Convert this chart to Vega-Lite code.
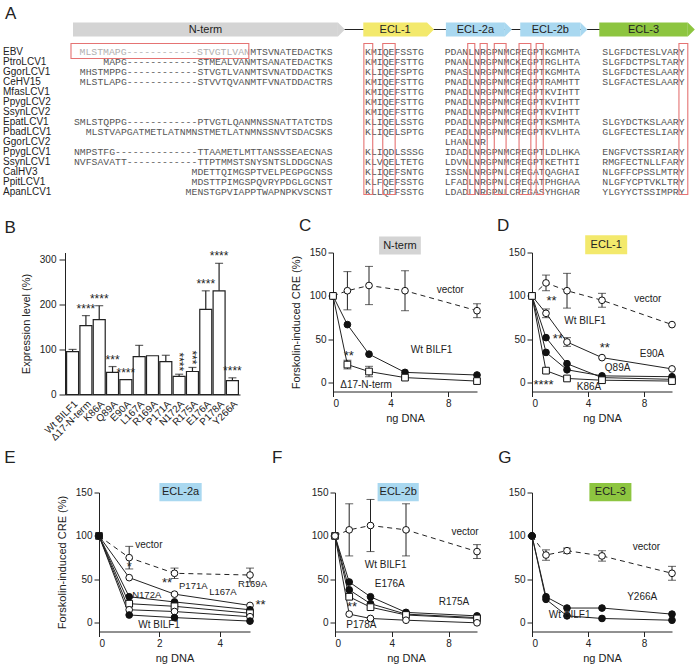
{
  "$schema": "https://vega.github.io/schema/vega-lite/v6.json",
  "padding": {"left": 3, "top": 3.5, "right": 0, "bottom": 0},
  "background": "white",
  "spacing": 6,
  "config": {
    "font": "Liberation Sans",
    "view": {"stroke": null},
    "axis": {"labelFont": "Liberation Sans", "labelFontSize": 10, "labelColor": "#222", "titleFont": "Liberation Sans", "titleFontSize": 11, "titleFontWeight": "normal", "titleColor": "#222", "domainColor": "#222", "tickColor": "#222", "grid": false, "tickSize": 5, "titlePadding": 8},
    "axisX": {"titlePadding": 4},
    "text": {"font": "Liberation Sans", "fontSize": 10, "color": "#222"}
  },
  "datasets": {
    "seqs": [
      {"row": 0, "name": "EBV", "del": "MLSTMAPG------------STVGTLVAN", "n": "MTSVNATEDACTKS", "e1": "KMIQEFSSTG", "e2": "PDANLNRGPNMCREGPTKGMHTA", "e3": "SLGFDCTESLVARY"},
      {"row": 1, "name": "PtroLCV1", "del": "", "n": "MAPG------------STMEALVANMTSANATEDACTKS", "e1": "KMIQEFSTTG", "e2": "PNANLNRGPNMCKEGPTRGLHTA", "e3": "SLGFDCTPSLTARY"},
      {"row": 2, "name": "GgorLCV1", "del": "", "n": "MHSTMPPG------------STVGTLVANMTSVNATDDACTKS", "e1": "KLIQEFSPTG", "e2": "PNASLNRGPNMCREGPTKGMHTA", "e3": "SLGFDCTESLAARY"},
      {"row": 3, "name": "CeHV15", "del": "", "n": "MLSTLAPG------------STVVTQVANMTFVNATDDACTRS", "e1": "KMIQEFSTTG", "e2": "PNADLNRGPNMCREGPTRAMHTT", "e3": "SLGFACTESLAARY"},
      {"row": 4, "name": "MfasLCV1", "del": "", "n": "", "e1": "KMIQEFSTTG", "e2": "PNADLNRGPNMCREGPTKVIHTT", "e3": ""},
      {"row": 5, "name": "PpygLCV2", "del": "", "n": "", "e1": "KMIQEFSTTG", "e2": "PNADLNRGPNMCREGPTKVIHTT", "e3": ""},
      {"row": 6, "name": "SsynLCV2", "del": "", "n": "", "e1": "KMIQEFSTTG", "e2": "PNADLNRGPNMCREGPTKVIHTT", "e3": ""},
      {"row": 7, "name": "EpatLCV1", "del": "", "n": "SMLSTQPPG------------PTVGTLQANMNSSNATTATCTDS", "e1": "KLIQELSSTG", "e2": "PDADLNRGPNMCREGPTKSMHTA", "e3": "SLGYDCTKSLAARY"},
      {"row": 8, "name": "PbadLCV1", "del": "", "n": "MLSTVAPGATMETLATNMNSTMETLATNMNSSNVTSDACSKS", "e1": "KLIQELSPTG", "e2": "PEADLNRGPNMCREGPTKVLHTA", "e3": "GLGFECTESLIARY"},
      {"row": 9, "name": "GgorLCV2", "del": "", "n": "", "e1": "", "e2": "LHANLNR", "e3": ""},
      {"row": 10, "name": "PpygLCV1", "del": "", "n": "NMPSTFG--------------TTAAMETLMTTANSSSEAECNAS", "e1": "KLIQDLSSSG", "e2": "IDADLNRGPNMCREGPTLDLHKA", "e3": "ENGFVCTSSRIARY"},
      {"row": 11, "name": "SsynLCV1", "del": "", "n": "NVFSAVATT------------TTPTMMSTSNYSNTSLDDGCNAS", "e1": "KLVQELTETG", "e2": "LDVNLNRGPNMCREGPTKETHTI", "e3": "RMGFECTNLLFARY"},
      {"row": 12, "name": "CalHV3", "del": "", "n": "MDETTQIMGSPTVELPEGPGCNSS", "e1": "KLIQEFSNTG", "e2": "ISSNLNRGPNLCREGATQAGHAI", "e3": "NLGFFCPSSLMTRY"},
      {"row": 13, "name": "PpitLCV1", "del": "", "n": "MDSTTPIMGSPQVRYPDGLGCNST", "e1": "KLFQEFSSTG", "e2": "LFADLNRGPNLCREGATPHGHAA", "e3": "NLGFYCPTVKLTRY"},
      {"row": 14, "name": "ApanLCV1", "del": "", "n": "MENSTGPVIAPPTWAPNPKVSCNST", "e1": "KLLQEFSSTG", "e2": "LDADLNRGPNLCREGASYHGHAR", "e3": "YLGYYCTSSIMPRY"}
    ],
    "doms": [
      {"d": "N-term", "s": 0, "e": 44.9},
      {"d": "ECL-1", "s": 49.2, "e": 60},
      {"d": "ECL-2a", "s": 63.2, "e": 73.2},
      {"d": "ECL-2b", "s": 75.8, "e": 86},
      {"d": "ECL-3", "s": 89.2, "e": 104.2}
    ],
    "boxes": [
      {"c0": -0.34, "c1": 29.8, "r0": -0.8, "r1": 0.7},
      {"c0": 49.3, "c1": 50.8, "r0": -0.8, "r1": 14.3},
      {"c0": 52.5, "c1": 54.6, "r0": -0.8, "r1": 14.3},
      {"c0": 66.9, "c1": 68.1, "r0": -0.8, "r1": 14.3},
      {"c0": 69, "c1": 70.2, "r0": -0.8, "r1": 14.3},
      {"c0": 71.4, "c1": 73.4, "r0": -0.8, "r1": 14.3},
      {"c0": 75.6, "c1": 77.6, "r0": -0.8, "r1": 14.3},
      {"c0": 78.5, "c1": 79.7, "r0": -0.8, "r1": 14.3},
      {"c0": 102.7, "c1": 104.2, "r0": -0.8, "r1": 14.3}
    ],
    "expr": [
      {"m": "Wt BILF1", "v": 95, "hi": 100, "sig": ""},
      {"m": "Δ17-N-term", "v": 153, "hi": 175, "sig": "****"},
      {"m": "K86A", "v": 166, "hi": 197, "sig": "****"},
      {"m": "Q89A", "v": 49, "hi": 62, "sig": "***"},
      {"m": "E90A", "v": 33, "hi": 33, "sig": "****"},
      {"m": "L167A", "v": 84, "hi": 109, "sig": ""},
      {"m": "R169A", "v": 86, "hi": 86, "sig": ""},
      {"m": "P171A", "v": 73, "hi": 87, "sig": ""},
      {"m": "N172A", "v": 40, "hi": 45, "sig": "****"},
      {"m": "R175A", "v": 51, "hi": 60, "sig": "***"},
      {"m": "E176A", "v": 189, "hi": 230, "sig": "****"},
      {"m": "P178A", "v": 230, "hi": 291, "sig": "****"},
      {"m": "Y266A", "v": 31, "hi": 37, "sig": "****"}
    ],
    "C": [
      {"s": "vector", "ng": 0, "v": 100, "e": 0}, {"s": "vector", "ng": 1, "v": 106, "e": 22}, {"s": "vector", "ng": 2.5, "v": 112, "e": 22}, {"s": "vector", "ng": 5, "v": 106, "e": 23}, {"s": "vector", "ng": 10, "v": 83, "e": 8},
      {"s": "Wt BILF1", "ng": 0, "v": 100, "e": 0}, {"s": "Wt BILF1", "ng": 1, "v": 67, "e": 0}, {"s": "Wt BILF1", "ng": 2.5, "v": 33, "e": 0}, {"s": "Wt BILF1", "ng": 5, "v": 12, "e": 0}, {"s": "Wt BILF1", "ng": 10, "v": 9, "e": 0},
      {"s": "Δ17-N-term", "ng": 0, "v": 100, "e": 0}, {"s": "Δ17-N-term", "ng": 1, "v": 21, "e": 5}, {"s": "Δ17-N-term", "ng": 2.5, "v": 13, "e": 6}, {"s": "Δ17-N-term", "ng": 5, "v": 6, "e": 0}, {"s": "Δ17-N-term", "ng": 10, "v": 2, "e": 0}
    ],
    "D": [
      {"s": "vector", "ng": 0, "v": 100, "e": 0}, {"s": "vector", "ng": 1, "v": 115, "e": 9}, {"s": "vector", "ng": 2.5, "v": 106, "e": 20}, {"s": "vector", "ng": 5, "v": 95, "e": 8}, {"s": "vector", "ng": 10, "v": 67, "e": 0},
      {"s": "Wt BILF1", "ng": 0, "v": 100, "e": 0}, {"s": "Wt BILF1", "ng": 1, "v": 52, "e": 0}, {"s": "Wt BILF1", "ng": 2.5, "v": 22, "e": 0}, {"s": "Wt BILF1", "ng": 5, "v": 6, "e": 0}, {"s": "Wt BILF1", "ng": 10, "v": 4, "e": 0},
      {"s": "E90A", "ng": 0, "v": 100, "e": 0}, {"s": "E90A", "ng": 1, "v": 80, "e": 5}, {"s": "E90A", "ng": 2.5, "v": 47, "e": 5}, {"s": "E90A", "ng": 5, "v": 29, "e": 0}, {"s": "E90A", "ng": 10, "v": 16, "e": 0},
      {"s": "Q89A", "ng": 0, "v": 100, "e": 0}, {"s": "Q89A", "ng": 1, "v": 35, "e": 0}, {"s": "Q89A", "ng": 2.5, "v": 15, "e": 0}, {"s": "Q89A", "ng": 5, "v": 8, "e": 0}, {"s": "Q89A", "ng": 10, "v": 7, "e": 0},
      {"s": "K86A", "ng": 0, "v": 100, "e": 0}, {"s": "K86A", "ng": 1, "v": 14, "e": 0}, {"s": "K86A", "ng": 2.5, "v": 5, "e": 0}, {"s": "K86A", "ng": 5, "v": 3, "e": 0}, {"s": "K86A", "ng": 10, "v": 2, "e": 0}
    ],
    "E": [
      {"s": "vector", "ng": 0, "v": 100, "e": 0}, {"s": "vector", "ng": 1, "v": 75, "e": 13}, {"s": "vector", "ng": 2.5, "v": 57, "e": 6}, {"s": "vector", "ng": 5, "v": 55, "e": 8},
      {"s": "R169A", "ng": 0, "v": 100, "e": 0}, {"s": "R169A", "ng": 1, "v": 52, "e": 0}, {"s": "R169A", "ng": 2.5, "v": 33, "e": 0}, {"s": "R169A", "ng": 5, "v": 20, "e": 0},
      {"s": "L167A", "ng": 0, "v": 100, "e": 0}, {"s": "L167A", "ng": 1, "v": 30, "e": 0}, {"s": "L167A", "ng": 2.5, "v": 24, "e": 0}, {"s": "L167A", "ng": 5, "v": 15, "e": 0},
      {"s": "P171A", "ng": 0, "v": 100, "e": 0}, {"s": "P171A", "ng": 1, "v": 22, "e": 0}, {"s": "P171A", "ng": 2.5, "v": 19, "e": 0}, {"s": "P171A", "ng": 5, "v": 11, "e": 0},
      {"s": "N172A", "ng": 0, "v": 100, "e": 0}, {"s": "N172A", "ng": 1, "v": 15, "e": 0}, {"s": "N172A", "ng": 2.5, "v": 13, "e": 0}, {"s": "N172A", "ng": 5, "v": 7, "e": 0},
      {"s": "Wt BILF1", "ng": 0, "v": 100, "e": 0}, {"s": "Wt BILF1", "ng": 1, "v": 9, "e": 0}, {"s": "Wt BILF1", "ng": 2.5, "v": 6, "e": 0}, {"s": "Wt BILF1", "ng": 5, "v": 2, "e": 0}
    ],
    "F": [
      {"s": "vector", "ng": 0, "v": 100, "e": 0}, {"s": "vector", "ng": 1, "v": 107, "e": 30}, {"s": "vector", "ng": 2.5, "v": 112, "e": 30}, {"s": "vector", "ng": 5, "v": 107, "e": 30}, {"s": "vector", "ng": 10, "v": 82, "e": 8},
      {"s": "Wt BILF1", "ng": 0, "v": 100, "e": 0}, {"s": "Wt BILF1", "ng": 1, "v": 47, "e": 0}, {"s": "Wt BILF1", "ng": 2.5, "v": 30, "e": 0}, {"s": "Wt BILF1", "ng": 5, "v": 12, "e": 0}, {"s": "Wt BILF1", "ng": 10, "v": 8, "e": 0},
      {"s": "E176A", "ng": 0, "v": 100, "e": 0}, {"s": "E176A", "ng": 1, "v": 38, "e": 0}, {"s": "E176A", "ng": 2.5, "v": 22, "e": 0}, {"s": "E176A", "ng": 5, "v": 10, "e": 0}, {"s": "E176A", "ng": 10, "v": 6, "e": 0},
      {"s": "R175A", "ng": 0, "v": 100, "e": 0}, {"s": "R175A", "ng": 1, "v": 30, "e": 0}, {"s": "R175A", "ng": 2.5, "v": 18, "e": 0}, {"s": "R175A", "ng": 5, "v": 9, "e": 0}, {"s": "R175A", "ng": 10, "v": 5, "e": 0},
      {"s": "P178A", "ng": 0, "v": 100, "e": 0}, {"s": "P178A", "ng": 1, "v": 10, "e": 0}, {"s": "P178A", "ng": 2.5, "v": 5, "e": 0}, {"s": "P178A", "ng": 5, "v": 3, "e": 0}, {"s": "P178A", "ng": 10, "v": 0, "e": 0}
    ],
    "G": [
      {"s": "vector", "ng": 0, "v": 100, "e": 0}, {"s": "vector", "ng": 1, "v": 78, "e": 6}, {"s": "vector", "ng": 2.5, "v": 83, "e": 3}, {"s": "vector", "ng": 5, "v": 77, "e": 6}, {"s": "vector", "ng": 10, "v": 57, "e": 8},
      {"s": "Y266A", "ng": 0, "v": 100, "e": 0}, {"s": "Y266A", "ng": 1, "v": 30, "e": 0}, {"s": "Y266A", "ng": 2.5, "v": 17, "e": 0}, {"s": "Y266A", "ng": 5, "v": 17, "e": 0}, {"s": "Y266A", "ng": 10, "v": 10, "e": 0},
      {"s": "Wt BILF1", "ng": 0, "v": 100, "e": 0}, {"s": "Wt BILF1", "ng": 1, "v": 27, "e": 0}, {"s": "Wt BILF1", "ng": 2.5, "v": 8, "e": 0}, {"s": "Wt BILF1", "ng": 5, "v": 5, "e": 0}, {"s": "Wt BILF1", "ng": 10, "v": 3, "e": 0}
    ]
  },
  "vconcat": [
    {
      "width": 631, "height": 204.5,
      "layer": [
        {"data": {"values": [{}]}, "mark": {"type": "rule", "color": "#222", "strokeWidth": 1.2},
         "encoding": {"x": {"datum": 45, "type": "quantitative", "scale": {"domain": [-1.356, 105.59], "nice": false, "zero": false}, "axis": null}, "x2": {"datum": 104}, "y": {"datum": -2.2, "type": "quantitative", "scale": {"domain": [-4.6, 15.85], "reverse": true, "nice": false, "zero": false}, "axis": null}}},
        {"data": {"values": [{}]}, "mark": {"type": "text", "text": "A", "fontSize": 17, "align": "left", "baseline": "middle", "color": "#222"},
         "encoding": {"x": {"datum": -11.52}, "y": {"datum": -3.8}}},
        {"data": {"name": "doms"}, "mark": {"type": "rect"},
         "encoding": {"x": {"field": "s", "type": "quantitative"}, "x2": {"field": "e"}, "y": {"datum": -2.9}, "y2": {"datum": -1.5},
           "color": {"field": "d", "type": "nominal", "legend": null, "scale": {"domain": ["N-term", "ECL-1", "ECL-2a", "ECL-2b", "ECL-3"], "range": ["#d4d4d4", "#f3e96c", "#a9d8f0", "#a9d8f0", "#8dc540"]}}}},
        {"data": {"name": "doms"}, "mark": {"type": "point", "shape": "M0,-1L1,0L0,1Z", "size": 196, "filled": true, "opacity": 1, "strokeWidth": 0},
         "encoding": {"x": {"field": "e", "type": "quantitative"}, "y": {"datum": -2.2},
           "color": {"field": "d", "type": "nominal", "legend": null}}},
        {"data": {"name": "doms"}, "transform": [{"fold": ["s", "e"], "as": ["k", "c"]}, {"aggregate": [{"op": "mean", "field": "c", "as": "mid"}], "groupby": ["d"]}],
         "mark": {"type": "text", "fontSize": 11, "baseline": "middle", "color": "#222"},
         "encoding": {"x": {"field": "mid", "type": "quantitative"}, "y": {"datum": -2.2}, "text": {"field": "d"}}},
        {"data": {"name": "seqs"}, "mark": {"type": "text", "align": "left", "baseline": "middle", "fontSize": 10, "color": "#222"},
         "encoding": {"x": {"datum": -11.86}, "y": {"field": "row", "type": "quantitative"}, "text": {"field": "name"}}},
        {"data": {"name": "seqs"}, "mark": {"type": "text", "align": "right", "baseline": "middle", "font": "Liberation Mono", "fontSize": 9.8, "color": "#b0b0b0"},
         "encoding": {"x": {"datum": 30}, "y": {"field": "row", "type": "quantitative"}, "text": {"field": "del"}}},
        {"data": {"name": "seqs"}, "mark": {"type": "text", "align": "right", "baseline": "middle", "font": "Liberation Mono", "fontSize": 9.8, "color": "#555"},
         "encoding": {"x": {"datum": 44}, "y": {"field": "row", "type": "quantitative"}, "text": {"field": "n"}}},
        {"data": {"name": "seqs"}, "mark": {"type": "text", "align": "left", "baseline": "middle", "font": "Liberation Mono", "fontSize": 9.8, "color": "#555"},
         "encoding": {"x": {"datum": 49.5}, "y": {"field": "row", "type": "quantitative"}, "text": {"field": "e1"}}},
        {"data": {"name": "seqs"}, "mark": {"type": "text", "align": "left", "baseline": "middle", "font": "Liberation Mono", "fontSize": 9.8, "color": "#555"},
         "encoding": {"x": {"datum": 63}, "y": {"field": "row", "type": "quantitative"}, "text": {"field": "e2"}}},
        {"data": {"name": "seqs"}, "mark": {"type": "text", "align": "left", "baseline": "middle", "font": "Liberation Mono", "fontSize": 9.8, "color": "#555"},
         "encoding": {"x": {"datum": 89.7}, "y": {"field": "row", "type": "quantitative"}, "text": {"field": "e3"}}},
        {"data": {"name": "boxes"}, "mark": {"type": "rect", "fill": null, "fillOpacity": 0, "stroke": "#e57373", "strokeWidth": 1.1},
         "encoding": {"x": {"field": "c0", "type": "quantitative"}, "x2": {"field": "c1"}, "y": {"field": "r0", "type": "quantitative"}, "y2": {"field": "r1"}}}
      ]
    },
    {
      "hconcat": [
        {
          "width": 175, "height": 142,
          "layer": [
            {"data": {"name": "expr"}, "mark": {"type": "bar", "fill": "white", "stroke": "#222", "strokeWidth": 1.2},
             "encoding": {
               "x": {"field": "m", "type": "nominal", "sort": null, "title": null, "scale": {"paddingInner": 0.1, "paddingOuter": 0.12}, "axis": {"title": null, "labelAngle": -45, "ticks": false, "labelPadding": 4, "labelFontSize": 10}},
               "y": {"field": "v", "type": "quantitative", "title": "Expression level (%)", "scale": {"domain": [0, 315], "nice": false}, "axis": {"values": [0, 50, 100, 150, 200, 250, 300], "title": "Expression level (%)", "tickSize": 6, "labelPadding": 3, "titlePadding": 8}}}},
            {"data": {"name": "expr"}, "transform": [{"filter": "datum.hi > datum.v"}], "mark": {"type": "rule", "color": "#222", "strokeWidth": 1.2},
             "encoding": {"x": {"field": "m", "type": "nominal", "sort": null, "title": null}, "y": {"field": "v", "type": "quantitative", "title": "Expression level (%)"}, "y2": {"field": "hi"}}},
            {"data": {"name": "expr"}, "transform": [{"filter": "datum.hi > datum.v"}], "mark": {"type": "tick", "color": "#222", "size": 8, "thickness": 1.2},
             "encoding": {"x": {"field": "m", "type": "nominal", "sort": null, "title": null}, "y": {"field": "hi", "type": "quantitative", "title": "Expression level (%)"}}},
            {"data": {"name": "expr"}, "transform": [{"filter": "datum.sig != '' && datum.m != 'N172A' && datum.m != 'R175A'"}], "mark": {"type": "text", "fontSize": 12, "baseline": "middle", "dy": -7, "color": "#222"},
             "encoding": {"x": {"field": "m", "type": "nominal", "sort": null, "title": null}, "y": {"field": "hi", "type": "quantitative", "title": "Expression level (%)"}, "text": {"field": "sig"}}},
            {"data": {"name": "expr"}, "transform": [{"filter": "datum.m == 'N172A' || datum.m == 'R175A'"}], "mark": {"type": "text", "fontSize": 12, "baseline": "middle", "align": "right", "angle": 90, "dx": -3, "color": "#222"},
             "encoding": {"x": {"field": "m", "type": "nominal", "sort": null, "title": null}, "y": {"field": "hi", "type": "quantitative", "title": "Expression level (%)"}, "text": {"field": "sig"}}},
            {"data": {"values": [{}]}, "mark": {"type": "text", "text": "B", "fontSize": 17, "align": "left", "baseline": "middle", "dx": -68, "color": "#222"},
             "encoding": {"x": {"datum": "Wt BILF1"}, "y": {"datum": 370}}}
          ]
        },
        {"width": 73, "height": 1, "data": {"values": [{}]}, "mark": {"type": "point", "opacity": 0}},
        {
          "width": 144, "height": 139,
          "layer": [
            {"data": {"name": "C"}, "mark": {"type": "point", "filled": true, "stroke": "#111", "strokeWidth": 1, "size": 45, "opacity": 0},
             "encoding": {
               "x": {"field": "ng", "type": "quantitative", "title": "ng DNA", "scale": {"domain": [0, 10], "nice": false}, "axis": {"values": [0, 2, 4, 6, 8, 10], "title": "ng DNA"}},
               "y": {"field": "v", "type": "quantitative", "title": "Forskolin-induced CRE (%)", "scale": {"domain": [-10, 150], "nice": false}, "axis": {"values": [0, 50, 100, 150], "title": "Forskolin-induced CRE (%)"}},
               "shape": {"field": "s", "legend": null, "scale": {"domain": ["vector", "Wt BILF1", "Δ17-N-term"], "range": ["circle", "circle", "square"]}},
               "fill": {"field": "s", "legend": null, "scale": {"domain": ["vector", "Wt BILF1", "Δ17-N-term"], "range": ["white", "#111", "white"]}}}},
            {"data": {"name": "C"}, "transform": [{"filter": "datum.e > 0"}], "mark": {"type": "errorbar", "ticks": {"size": 8, "color": "#222"}, "rule": {"color": "#222"}},
             "encoding": {"x": {"field": "ng", "type": "quantitative", "title": "ng DNA"}, "y": {"field": "v", "type": "quantitative", "title": "Forskolin-induced CRE (%)"}, "yError": {"field": "e"}}},
            {"data": {"name": "C"}, "transform": [{"filter": "datum.s == 'vector'"}], "mark": {"type": "line", "color": "#222", "strokeWidth": 1, "strokeDash": [5, 4]},
             "encoding": {"x": {"field": "ng", "type": "quantitative", "title": "ng DNA"}, "y": {"field": "v", "type": "quantitative", "title": "Forskolin-induced CRE (%)"}}},
            {"data": {"name": "C"}, "transform": [{"filter": "datum.s != 'vector'"}], "mark": {"type": "line", "color": "#222", "strokeWidth": 1},
             "encoding": {"x": {"field": "ng", "type": "quantitative", "title": "ng DNA"}, "y": {"field": "v", "type": "quantitative", "title": "Forskolin-induced CRE (%)"}, "detail": {"field": "s"}}},
            {"data": {"name": "C"}, "mark": {"type": "point", "filled": true, "stroke": "#111", "strokeWidth": 1, "size": 45, "opacity": 1},
             "encoding": {"x": {"field": "ng", "type": "quantitative", "title": "ng DNA"}, "y": {"field": "v", "type": "quantitative", "title": "Forskolin-induced CRE (%)"}, "shape": {"field": "s", "legend": null}, "fill": {"field": "s", "legend": null}}},
            {"data": {"values": [{}]}, "mark": {"type": "text", "text": "C", "fontSize": 17, "baseline": "middle", "color": "#222"}, "encoding": {"x": {"datum": -1.94}, "y": {"datum": 180.7}}},
            {"data": {"values": [{}]}, "mark": {"type": "rect", "color": "#d4d4d4"}, "encoding": {"x": {"datum": 3.2}, "x2": {"datum": 6.1}, "y": {"datum": 147.6}, "y2": {"datum": 168.4}}},
            {"data": {"values": [{}]}, "mark": {"type": "text", "text": "N-term", "fontSize": 11}, "encoding": {"x": {"datum": 4.65}, "y": {"datum": 158}}},
            {"data": {"values": [{}]}, "mark": {"type": "text", "text": "vector", "align": "left", "baseline": "middle"}, "encoding": {"x": {"datum": 7.2}, "y": {"datum": 107}}},
            {"data": {"values": [{}]}, "mark": {"type": "text", "text": "Wt BILF1", "align": "left", "baseline": "middle"}, "encoding": {"x": {"datum": 5.4}, "y": {"datum": 38}}},
            {"data": {"values": [{}]}, "mark": {"type": "text", "text": "Δ17-N-term", "align": "left", "baseline": "middle"}, "encoding": {"x": {"datum": 0.5}, "y": {"datum": -3}}},
            {"data": {"values": [{}]}, "mark": {"type": "text", "text": "**", "fontSize": 13, "baseline": "middle"}, "encoding": {"x": {"datum": 1.1}, "y": {"datum": 31}}}
          ]
        },
        {"width": 35, "height": 1, "data": {"values": [{}]}, "mark": {"type": "point", "opacity": 0}},
        {
          "width": 140, "height": 139,
          "layer": [
            {"data": {"name": "D"}, "mark": {"type": "point", "filled": true, "stroke": "#111", "strokeWidth": 1, "size": 45, "opacity": 0},
             "encoding": {
               "x": {"field": "ng", "type": "quantitative", "title": "ng DNA", "scale": {"domain": [0, 10], "nice": false}, "axis": {"values": [0, 2, 4, 6, 8, 10], "title": "ng DNA"}},
               "y": {"field": "v", "type": "quantitative", "title": null, "scale": {"domain": [-10, 150], "nice": false}, "axis": {"values": [0, 50, 100, 150], "title": null}},
               "shape": {"field": "s", "legend": null, "scale": {"domain": ["vector", "Wt BILF1", "E90A", "Q89A", "K86A"], "range": ["circle", "circle", "square", "triangle-up", "triangle-down"]}},
               "fill": {"field": "s", "legend": null, "scale": {"domain": ["vector", "Wt BILF1", "E90A", "Q89A", "K86A"], "range": ["white", "#111", "#111", "white", "#111"]}}}},
            {"data": {"name": "D"}, "transform": [{"filter": "datum.e > 0"}], "mark": {"type": "errorbar", "ticks": {"size": 8, "color": "#222"}, "rule": {"color": "#222"}},
             "encoding": {"x": {"field": "ng", "type": "quantitative", "title": "ng DNA"}, "y": {"field": "v", "type": "quantitative", "title": null}, "yError": {"field": "e"}}},
            {"data": {"name": "D"}, "transform": [{"filter": "datum.s == 'vector'"}], "mark": {"type": "line", "color": "#222", "strokeWidth": 1, "strokeDash": [5, 4]},
             "encoding": {"x": {"field": "ng", "type": "quantitative", "title": "ng DNA"}, "y": {"field": "v", "type": "quantitative", "title": null}}},
            {"data": {"name": "D"}, "transform": [{"filter": "datum.s != 'vector'"}], "mark": {"type": "line", "color": "#222", "strokeWidth": 1},
             "encoding": {"x": {"field": "ng", "type": "quantitative", "title": "ng DNA"}, "y": {"field": "v", "type": "quantitative", "title": null}, "detail": {"field": "s"}}},
            {"data": {"name": "D"}, "mark": {"type": "point", "filled": true, "stroke": "#111", "strokeWidth": 1, "size": 45, "opacity": 1},
             "encoding": {"x": {"field": "ng", "type": "quantitative", "title": "ng DNA"}, "y": {"field": "v", "type": "quantitative", "title": null}, "shape": {"field": "s", "legend": null}, "fill": {"field": "s", "legend": null}}},
            {"data": {"values": [{}]}, "mark": {"type": "text", "text": "D", "fontSize": 17, "baseline": "middle", "color": "#222"}, "encoding": {"x": {"datum": -2.07}, "y": {"datum": 180.7}}},
            {"data": {"values": [{}]}, "mark": {"type": "rect", "color": "#f3e96c"}, "encoding": {"x": {"datum": 3.8}, "x2": {"datum": 6.8}, "y": {"datum": 148}, "y2": {"datum": 170}}},
            {"data": {"values": [{}]}, "mark": {"type": "text", "text": "ECL-1", "fontSize": 11}, "encoding": {"x": {"datum": 5.3}, "y": {"datum": 159}}},
            {"data": {"values": [{}]}, "mark": {"type": "text", "text": "vector", "align": "left", "baseline": "middle"}, "encoding": {"x": {"datum": 7.3}, "y": {"datum": 96}}},
            {"data": {"values": [{}]}, "mark": {"type": "text", "text": "Wt BILF1", "align": "left", "baseline": "middle"}, "encoding": {"x": {"datum": 2.3}, "y": {"datum": 71}}},
            {"data": {"values": [{}]}, "mark": {"type": "text", "text": "E90A", "align": "left", "baseline": "middle"}, "encoding": {"x": {"datum": 7.7}, "y": {"datum": 33}}},
            {"data": {"values": [{}]}, "mark": {"type": "text", "text": "Q89A", "align": "left", "baseline": "middle"}, "encoding": {"x": {"datum": 5.2}, "y": {"datum": 17}}},
            {"data": {"values": [{}]}, "mark": {"type": "text", "text": "K86A", "align": "left", "baseline": "middle"}, "encoding": {"x": {"datum": 3.2}, "y": {"datum": -5}}},
            {"data": {"values": [{}]}, "mark": {"type": "text", "text": "**", "fontSize": 13, "baseline": "middle"}, "encoding": {"x": {"datum": 1.4}, "y": {"datum": 94}}},
            {"data": {"values": [{}]}, "mark": {"type": "text", "text": "**", "fontSize": 13, "baseline": "middle"}, "encoding": {"x": {"datum": 1.85}, "y": {"datum": 50}}},
            {"data": {"values": [{}]}, "mark": {"type": "text", "text": "**", "fontSize": 13, "baseline": "middle"}, "encoding": {"x": {"datum": 5.2}, "y": {"datum": 40}}},
            {"data": {"values": [{}]}, "mark": {"type": "text", "text": "****", "fontSize": 13, "baseline": "middle", "align": "left"}, "encoding": {"x": {"datum": 0.1}, "y": {"datum": -2}}}
          ]
        }
      ],
      "spacing": 10,
      "bounds": "flush"
    },
    {
      "hconcat": [
        {"width": 24, "height": 1, "data": {"values": [{}]}, "mark": {"type": "point", "opacity": 0}},
        {
          "width": 151, "height": 139,
          "layer": [
            {"data": {"name": "E"}, "mark": {"type": "point", "filled": true, "stroke": "#111", "strokeWidth": 1, "size": 45, "opacity": 0},
             "encoding": {
               "x": {"field": "ng", "type": "quantitative", "title": "ng DNA", "scale": {"domain": [0, 5], "nice": false}, "axis": {"values": [0, 1, 2, 3, 4, 5], "title": "ng DNA"}},
               "y": {"field": "v", "type": "quantitative", "title": "Forskolin-induced CRE (%)", "scale": {"domain": [-10, 150], "nice": false}, "axis": {"values": [0, 50, 100, 150], "title": "Forskolin-induced CRE (%)"}},
               "shape": {"field": "s", "legend": null, "scale": {"domain": ["vector", "Wt BILF1", "R169A", "L167A", "P171A", "N172A"], "range": ["circle", "circle", "square", "triangle-up", "square", "triangle-down"]}},
               "fill": {"field": "s", "legend": null, "scale": {"domain": ["vector", "Wt BILF1", "R169A", "L167A", "P171A", "N172A"], "range": ["white", "#111", "#111", "white", "white", "#111"]}}}},
            {"data": {"name": "E"}, "transform": [{"filter": "datum.e > 0"}], "mark": {"type": "errorbar", "ticks": {"size": 8, "color": "#222"}, "rule": {"color": "#222"}},
             "encoding": {"x": {"field": "ng", "type": "quantitative", "title": "ng DNA"}, "y": {"field": "v", "type": "quantitative", "title": "Forskolin-induced CRE (%)"}, "yError": {"field": "e"}}},
            {"data": {"name": "E"}, "transform": [{"filter": "datum.s == 'vector'"}], "mark": {"type": "line", "color": "#222", "strokeWidth": 1, "strokeDash": [5, 4]},
             "encoding": {"x": {"field": "ng", "type": "quantitative", "title": "ng DNA"}, "y": {"field": "v", "type": "quantitative", "title": "Forskolin-induced CRE (%)"}}},
            {"data": {"name": "E"}, "transform": [{"filter": "datum.s != 'vector'"}], "mark": {"type": "line", "color": "#222", "strokeWidth": 1},
             "encoding": {"x": {"field": "ng", "type": "quantitative", "title": "ng DNA"}, "y": {"field": "v", "type": "quantitative", "title": "Forskolin-induced CRE (%)"}, "detail": {"field": "s"}}},
            {"data": {"name": "E"}, "mark": {"type": "point", "filled": true, "stroke": "#111", "strokeWidth": 1, "size": 45, "opacity": 1},
             "encoding": {"x": {"field": "ng", "type": "quantitative", "title": "ng DNA"}, "y": {"field": "v", "type": "quantitative", "title": "Forskolin-induced CRE (%)"}, "shape": {"field": "s", "legend": null}, "fill": {"field": "s", "legend": null}}},
            {"data": {"values": [{}]}, "mark": {"type": "text", "text": "E", "fontSize": 17, "baseline": "middle", "color": "#222"}, "encoding": {"x": {"datum": -2.95}, "y": {"datum": 190}}},
            {"data": {"values": [{}]}, "mark": {"type": "rect", "color": "#a9d8f0"}, "encoding": {"x": {"datum": 2.0}, "x2": {"datum": 3.4}, "y": {"datum": 140}, "y2": {"datum": 161}}},
            {"data": {"values": [{}]}, "mark": {"type": "text", "text": "ECL-2a", "fontSize": 11}, "encoding": {"x": {"datum": 2.7}, "y": {"datum": 150.5}}},
            {"data": {"values": [{}]}, "mark": {"type": "text", "text": "vector", "align": "left", "baseline": "middle"}, "encoding": {"x": {"datum": 1.2}, "y": {"datum": 90}}},
            {"data": {"values": [{}]}, "mark": {"type": "text", "text": "N172A", "align": "left", "baseline": "middle", "fontSize": 9.5}, "encoding": {"x": {"datum": 1.1}, "y": {"datum": 32}}},
            {"data": {"values": [{}]}, "mark": {"type": "text", "text": "P171A", "align": "left", "baseline": "middle", "fontSize": 9.5}, "encoding": {"x": {"datum": 2.65}, "y": {"datum": 42}}},
            {"data": {"values": [{}]}, "mark": {"type": "text", "text": "L167A", "align": "left", "baseline": "middle", "fontSize": 9.5}, "encoding": {"x": {"datum": 3.65}, "y": {"datum": 35}}},
            {"data": {"values": [{}]}, "mark": {"type": "text", "text": "R169A", "align": "left", "baseline": "middle", "fontSize": 9.5}, "encoding": {"x": {"datum": 4.6}, "y": {"datum": 45}}},
            {"data": {"values": [{}]}, "mark": {"type": "text", "text": "Wt BILF1", "align": "left", "baseline": "middle"}, "encoding": {"x": {"datum": 1.3}, "y": {"datum": -2}}},
            {"data": {"values": [{}]}, "mark": {"type": "text", "text": "*", "fontSize": 13, "baseline": "middle"}, "encoding": {"x": {"datum": 1.0}, "y": {"datum": 64}}},
            {"data": {"values": [{}]}, "mark": {"type": "text", "text": "**", "fontSize": 13, "baseline": "middle"}, "encoding": {"x": {"datum": 2.25}, "y": {"datum": 46}}},
            {"data": {"values": [{}]}, "mark": {"type": "text", "text": "**", "fontSize": 13, "baseline": "middle"}, "encoding": {"x": {"datum": 5.35}, "y": {"datum": 20}}}
          ]
        },
        {"width": 65, "height": 1, "data": {"values": [{}]}, "mark": {"type": "point", "opacity": 0}},
        {
          "width": 142, "height": 139,
          "layer": [
            {"data": {"name": "F"}, "mark": {"type": "point", "filled": true, "stroke": "#111", "strokeWidth": 1, "size": 45, "opacity": 0},
             "encoding": {
               "x": {"field": "ng", "type": "quantitative", "title": "ng DNA", "scale": {"domain": [0, 10], "nice": false}, "axis": {"values": [0, 2, 4, 6, 8, 10], "title": "ng DNA"}},
               "y": {"field": "v", "type": "quantitative", "title": null, "scale": {"domain": [-10, 150], "nice": false}, "axis": {"values": [0, 50, 100, 150], "title": null}},
               "shape": {"field": "s", "legend": null, "scale": {"domain": ["vector", "Wt BILF1", "E176A", "R175A", "P178A"], "range": ["circle", "circle", "triangle-up", "square", "square"]}},
               "fill": {"field": "s", "legend": null, "scale": {"domain": ["vector", "Wt BILF1", "E176A", "R175A", "P178A"], "range": ["white", "#111", "white", "white", "#111"]}}}},
            {"data": {"name": "F"}, "transform": [{"filter": "datum.e > 0"}], "mark": {"type": "errorbar", "ticks": {"size": 8, "color": "#222"}, "rule": {"color": "#222"}},
             "encoding": {"x": {"field": "ng", "type": "quantitative", "title": "ng DNA"}, "y": {"field": "v", "type": "quantitative", "title": null}, "yError": {"field": "e"}}},
            {"data": {"name": "F"}, "transform": [{"filter": "datum.s == 'vector'"}], "mark": {"type": "line", "color": "#222", "strokeWidth": 1, "strokeDash": [5, 4]},
             "encoding": {"x": {"field": "ng", "type": "quantitative", "title": "ng DNA"}, "y": {"field": "v", "type": "quantitative", "title": null}}},
            {"data": {"name": "F"}, "transform": [{"filter": "datum.s != 'vector'"}], "mark": {"type": "line", "color": "#222", "strokeWidth": 1},
             "encoding": {"x": {"field": "ng", "type": "quantitative", "title": "ng DNA"}, "y": {"field": "v", "type": "quantitative", "title": null}, "detail": {"field": "s"}}},
            {"data": {"name": "F"}, "mark": {"type": "point", "filled": true, "stroke": "#111", "strokeWidth": 1, "size": 45, "opacity": 1},
             "encoding": {"x": {"field": "ng", "type": "quantitative", "title": "ng DNA"}, "y": {"field": "v", "type": "quantitative", "title": null}, "shape": {"field": "s", "legend": null}, "fill": {"field": "s", "legend": null}}},
            {"data": {"values": [{}]}, "mark": {"type": "text", "text": "F", "fontSize": 17, "baseline": "middle", "color": "#222"}, "encoding": {"x": {"datum": -4.08}, "y": {"datum": 190}}},
            {"data": {"values": [{}]}, "mark": {"type": "rect", "color": "#a9d8f0"}, "encoding": {"x": {"datum": 3.0}, "x2": {"datum": 5.9}, "y": {"datum": 140}, "y2": {"datum": 161}}},
            {"data": {"values": [{}]}, "mark": {"type": "text", "text": "ECL-2b", "fontSize": 11}, "encoding": {"x": {"datum": 4.45}, "y": {"datum": 150.5}}},
            {"data": {"values": [{}]}, "mark": {"type": "text", "text": "vector", "align": "left", "baseline": "middle"}, "encoding": {"x": {"datum": 8.2}, "y": {"datum": 105}}},
            {"data": {"values": [{}]}, "mark": {"type": "text", "text": "Wt BILF1", "align": "left", "baseline": "middle"}, "encoding": {"x": {"datum": 2.1}, "y": {"datum": 66}}},
            {"data": {"values": [{}]}, "mark": {"type": "text", "text": "E176A", "align": "left", "baseline": "middle"}, "encoding": {"x": {"datum": 2.8}, "y": {"datum": 45}}},
            {"data": {"values": [{}]}, "mark": {"type": "text", "text": "R175A", "align": "left", "baseline": "middle"}, "encoding": {"x": {"datum": 7.3}, "y": {"datum": 24}}},
            {"data": {"values": [{}]}, "mark": {"type": "text", "text": "P178A", "align": "left", "baseline": "middle"}, "encoding": {"x": {"datum": 0.8}, "y": {"datum": -3}}},
            {"data": {"values": [{}]}, "mark": {"type": "text", "text": "**", "fontSize": 13, "baseline": "middle"}, "encoding": {"x": {"datum": 1.2}, "y": {"datum": 18}}}
          ]
        },
        {"width": 35, "height": 1, "data": {"values": [{}]}, "mark": {"type": "point", "opacity": 0}},
        {
          "width": 140, "height": 139,
          "layer": [
            {"data": {"name": "G"}, "mark": {"type": "point", "filled": true, "stroke": "#111", "strokeWidth": 1, "size": 45, "opacity": 0},
             "encoding": {
               "x": {"field": "ng", "type": "quantitative", "title": "ng DNA", "scale": {"domain": [0, 10], "nice": false}, "axis": {"values": [0, 2, 4, 6, 8, 10], "title": "ng DNA"}},
               "y": {"field": "v", "type": "quantitative", "title": null, "scale": {"domain": [-10, 150], "nice": false}, "axis": {"values": [0, 50, 100, 150], "title": null}},
               "shape": {"field": "s", "legend": null, "scale": {"domain": ["vector", "Wt BILF1", "Y266A"], "range": ["circle", "circle", "square"]}},
               "fill": {"field": "s", "legend": null, "scale": {"domain": ["vector", "Wt BILF1", "Y266A"], "range": ["white", "#111", "white"]}}}},
            {"data": {"name": "G"}, "transform": [{"filter": "datum.e > 0"}], "mark": {"type": "errorbar", "ticks": {"size": 8, "color": "#222"}, "rule": {"color": "#222"}},
             "encoding": {"x": {"field": "ng", "type": "quantitative", "title": "ng DNA"}, "y": {"field": "v", "type": "quantitative", "title": null}, "yError": {"field": "e"}}},
            {"data": {"name": "G"}, "transform": [{"filter": "datum.s == 'vector'"}], "mark": {"type": "line", "color": "#222", "strokeWidth": 1, "strokeDash": [5, 4]},
             "encoding": {"x": {"field": "ng", "type": "quantitative", "title": "ng DNA"}, "y": {"field": "v", "type": "quantitative", "title": null}}},
            {"data": {"name": "G"}, "transform": [{"filter": "datum.s != 'vector'"}], "mark": {"type": "line", "color": "#222", "strokeWidth": 1},
             "encoding": {"x": {"field": "ng", "type": "quantitative", "title": "ng DNA"}, "y": {"field": "v", "type": "quantitative", "title": null}, "detail": {"field": "s"}}},
            {"data": {"name": "G"}, "mark": {"type": "point", "filled": true, "stroke": "#111", "strokeWidth": 1, "size": 45, "opacity": 1},
             "encoding": {"x": {"field": "ng", "type": "quantitative", "title": "ng DNA"}, "y": {"field": "v", "type": "quantitative", "title": null}, "shape": {"field": "s", "legend": null}, "fill": {"field": "s", "legend": null}}},
            {"data": {"values": [{}]}, "mark": {"type": "text", "text": "G", "fontSize": 17, "baseline": "middle", "color": "#222"}, "encoding": {"x": {"datum": -1.93}, "y": {"datum": 190}}},
            {"data": {"values": [{}]}, "mark": {"type": "rect", "color": "#8dc540"}, "encoding": {"x": {"datum": 4.1}, "x2": {"datum": 7.1}, "y": {"datum": 140}, "y2": {"datum": 161}}},
            {"data": {"values": [{}]}, "mark": {"type": "text", "text": "ECL-3", "fontSize": 11}, "encoding": {"x": {"datum": 5.6}, "y": {"datum": 150.5}}},
            {"data": {"values": [{}]}, "mark": {"type": "text", "text": "vector", "align": "left", "baseline": "middle"}, "encoding": {"x": {"datum": 7.2}, "y": {"datum": 87}}},
            {"data": {"values": [{}]}, "mark": {"type": "text", "text": "Y266A", "align": "left", "baseline": "middle"}, "encoding": {"x": {"datum": 6.8}, "y": {"datum": 30}}},
            {"data": {"values": [{}]}, "mark": {"type": "text", "text": "Wt BILF1", "align": "left", "baseline": "middle"}, "encoding": {"x": {"datum": 1.2}, "y": {"datum": 9}}}
          ]
        }
      ],
      "spacing": 10,
      "bounds": "flush"
    }
  ]
}
